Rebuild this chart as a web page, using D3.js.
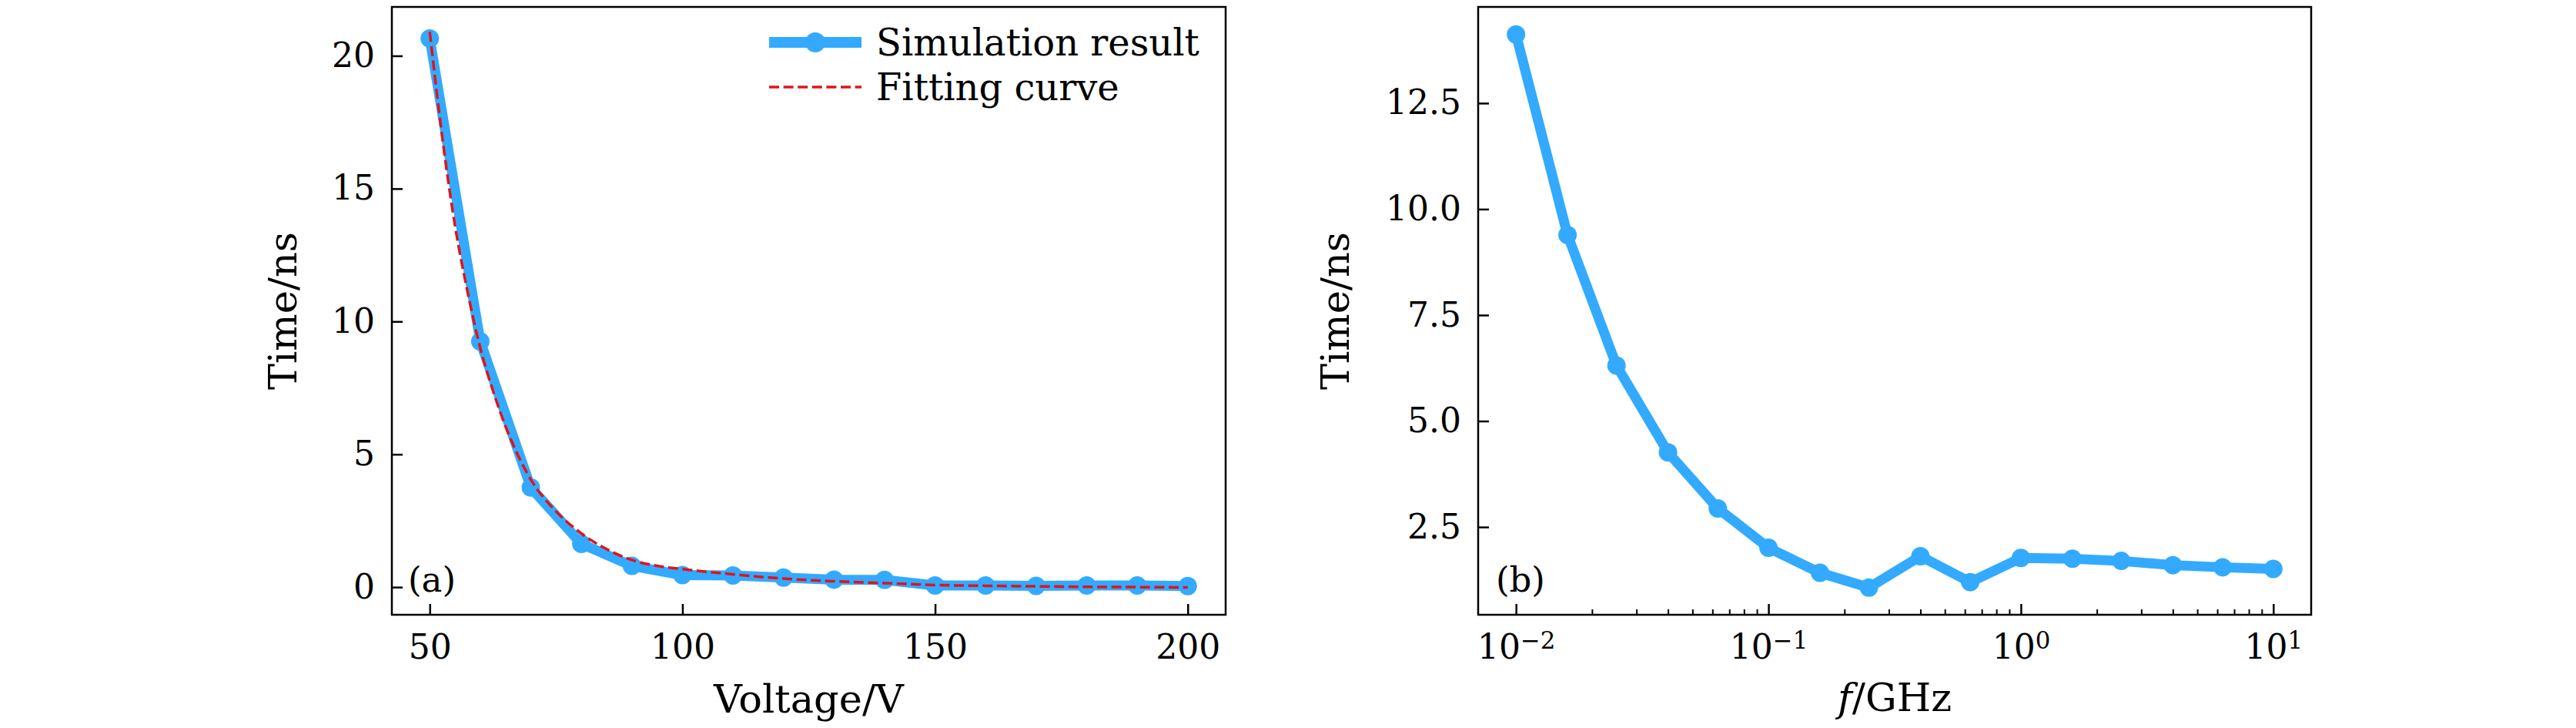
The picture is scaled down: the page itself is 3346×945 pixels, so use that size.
<!DOCTYPE html>
<html>
<head>
<meta charset="utf-8">
<script src="https://cdn.jsdelivr.net/npm/d3@7"></script>
<style>
  html, body { margin: 0; padding: 0; background: #fff; }
  svg { display: block; }
  text { font-family: "DejaVu Serif", "Liberation Serif", serif; fill: #000; }
</style>
</head>
<body>
<div id="chart"></div>
<script>
// Panel (a): delay time vs. voltage
const voltage = [50, 60, 70, 80, 90, 100, 110, 120, 130, 140, 150, 160, 170, 180, 190, 200];
const simTime = [20.65, 9.25, 3.75, 1.63, 0.8, 0.45, 0.44, 0.36, 0.28, 0.27, 0.06, 0.06, 0.05, 0.06, 0.06, 0.04];

// fitting curve
const fitVoltage = [50, 52.5, 55, 57.5, 60, 62.5, 65, 67.5, 70, 75, 80, 85, 90, 95, 100, 110, 120, 130, 140, 150, 160, 170, 180, 190, 200];
const fitTime = [20.9, 16.9, 13.6, 11.1, 9.0, 7.4, 6.05, 4.95, 4.05, 2.85, 2.02, 1.43, 1.02, 0.8, 0.68, 0.48, 0.32, 0.22, 0.15, 0.08, 0.05, 0.03, 0.01, 0.0, -0.01];

// Panel (b): delay time vs. frequency
const freq = [0.01, 0.016, 0.025, 0.04, 0.063, 0.1, 0.16, 0.25, 0.4, 0.63, 1, 1.6, 2.5, 4, 6.3, 10];
const freqTime = [14.12, 9.39, 6.31, 4.26, 2.94, 2.01, 1.42, 1.07, 1.81, 1.2, 1.77, 1.75, 1.7, 1.6, 1.55, 1.51];

const voltTicks = [50, 100, 150, 200];
const timeTicksA = [0, 5, 10, 15, 20];
const freqTicks = [0.01, 0.1, 1, 10];
const timeTicksB = [2.5, 5.0, 7.5, 10.0, 12.5];
const legendLabels = ["Simulation result", "Fitting curve"];

const W = 3346, H = 945;
const blue = "#33aaff", red = "#e0141c";
const tickFont = 44, labelFont = 51, legendFont = 48, tagFont = 45;
const lineW = 13, markerR = 12;

const svg = d3.select("#chart").append("svg")
    .attr("width", W)
    .attr("height", H);

const plotTop = 9, plotBottom = 798;

// scales
const xA = d3.scaleLinear().domain([42.5, 207.5]).range([509, 1592]);
const yA = d3.scaleLinear().domain([-1.04, 21.84]).range([plotBottom, plotTop]);
const xB = d3.scaleLog().domain([Math.pow(10, -2.15), Math.pow(10, 1.15)]).range([1920, 3002]);
const yB = d3.scaleLinear().domain([0.43, 14.77]).range([plotBottom, plotTop]);

function styleAxis(g) {
    g.select(".domain").remove();
    g.selectAll(".tick line").attr("stroke", "#000").attr("stroke-width", 2.5);
    g.selectAll(".tick text")
        .attr("font-family", "DejaVu Serif, Liberation Serif, serif")
        .attr("font-size", tickFont)
        .attr("fill", "#000");
}

function drawFrame(x) {
    svg.append("rect")
        .attr("x", x.range()[0])
        .attr("y", plotTop)
        .attr("width", x.range()[1] - x.range()[0])
        .attr("height", plotBottom - plotTop)
        .attr("fill", "none")
        .attr("stroke", "#000")
        .attr("stroke-width", 2.5);
}

// ---------- panel (a) ----------
svg.append("g")
    .attr("transform", `translate(0,${plotBottom})`)
    .call(d3.axisBottom(xA).tickValues(voltTicks).tickSize(-14).tickSizeOuter(0).tickPadding(26)
        .tickFormat(d3.format("d")))
    .call(styleAxis);

svg.append("g")
    .attr("transform", `translate(${xA.range()[0]},0)`)
    .call(d3.axisLeft(yA).tickValues(timeTicksA).tickSize(-14).tickSizeOuter(0).tickPadding(22)
        .tickFormat(d3.format("d")))
    .call(styleAxis);

const lineA = d3.line().x((d, i) => xA(voltage[i])).y(d => yA(d));
const fitLine = d3.line().x((d, i) => xA(fitVoltage[i])).y(d => yA(d)).curve(d3.curveMonotoneX);

svg.append("path")
    .datum(simTime)
    .attr("d", lineA)
    .attr("fill", "none")
    .attr("stroke", blue)
    .attr("stroke-width", lineW)
    .attr("stroke-linejoin", "round");

svg.append("g").selectAll("circle")
    .data(simTime)
    .join("circle")
    .attr("cx", (d, i) => xA(voltage[i]))
    .attr("cy", d => yA(d))
    .attr("r", markerR)
    .attr("fill", blue);

svg.append("path")
    .datum(fitTime)
    .attr("d", fitLine)
    .attr("fill", "none")
    .attr("stroke", red)
    .attr("stroke-width", 3.5)
    .attr("stroke-dasharray", "13,5.6");

drawFrame(xA);

// legend
const legend = svg.append("g").attr("class", "legend");
const legY = [55, 113];
legend.append("line")
    .attr("x1", 999).attr("x2", 1119)
    .attr("y1", legY[0]).attr("y2", legY[0])
    .attr("stroke", blue).attr("stroke-width", 14);
legend.append("circle")
    .attr("cx", 1059).attr("cy", legY[0]).attr("r", 13).attr("fill", blue);
legend.append("line")
    .attr("x1", 999).attr("x2", 1119)
    .attr("y1", legY[1]).attr("y2", legY[1])
    .attr("stroke", red).attr("stroke-width", 3.5)
    .attr("stroke-dasharray", "13,5.6");
legend.selectAll("text")
    .data(legendLabels)
    .join("text")
    .attr("x", 1138)
    .attr("y", (d, i) => legY[i] + 17)
    .attr("font-size", legendFont)
    .text(d => d);

svg.append("text")
    .attr("x", 530).attr("y", 768)
    .attr("font-size", tagFont)
    .text("(a)");

svg.append("text")
    .attr("x", (xA.range()[0] + xA.range()[1]) / 2)
    .attr("y", 925)
    .attr("text-anchor", "middle")
    .attr("font-size", labelFont)
    .text("Voltage/V");

svg.append("text")
    .attr("transform", `translate(385,${(plotTop + plotBottom) / 2}) rotate(-90)`)
    .attr("text-anchor", "middle")
    .attr("font-size", labelFont)
    .text("Time/ns");

// ---------- panel (b) ----------
const minorTicks = [];
[0.01, 0.1, 1].forEach(dec => {
    for (let m = 2; m <= 9; m++) minorTicks.push(dec * m);
});

svg.append("g")
    .attr("transform", `translate(0,${plotBottom})`)
    .call(d3.axisBottom(xB).tickValues(minorTicks).tickSize(-7).tickSizeOuter(0).tickFormat(""))
    .call(styleAxis)
    .selectAll(".tick line").attr("stroke-width", 2);

const xAxisB = svg.append("g")
    .attr("transform", `translate(0,${plotBottom})`)
    .call(d3.axisBottom(xB).tickValues(freqTicks).tickSize(-14).tickSizeOuter(0).tickPadding(26)
        .tickFormat(""))
    .call(styleAxis);

xAxisB.selectAll(".tick text").each(function(d) {
    const t = d3.select(this);
    const e = Math.round(Math.log10(d));
    t.text("10");
    t.append("tspan")
        .attr("dy", "-0.42em")
        .attr("font-size", tickFont * 0.7)
        .text(e < 0 ? "\u2212" + (-e) : String(e));
});

svg.append("g")
    .attr("transform", `translate(${xB.range()[0]},0)`)
    .call(d3.axisLeft(yB).tickValues(timeTicksB).tickSize(-14).tickSizeOuter(0).tickPadding(22)
        .tickFormat(d3.format(".1f")))
    .call(styleAxis);

const lineB = d3.line().x((d, i) => xB(freq[i])).y(d => yB(d));

svg.append("path")
    .datum(freqTime)
    .attr("d", lineB)
    .attr("fill", "none")
    .attr("stroke", blue)
    .attr("stroke-width", lineW)
    .attr("stroke-linejoin", "round");

svg.append("g").selectAll("circle")
    .data(freqTime)
    .join("circle")
    .attr("cx", (d, i) => xB(freq[i]))
    .attr("cy", d => yB(d))
    .attr("r", markerR)
    .attr("fill", blue);

drawFrame(xB);

svg.append("text")
    .attr("x", 1943).attr("y", 768)
    .attr("font-size", tagFont)
    .text("(b)");

const xlabB = svg.append("text")
    .attr("x", (xB.range()[0] + xB.range()[1]) / 2)
    .attr("y", 923)
    .attr("text-anchor", "middle")
    .attr("font-size", labelFont);
xlabB.append("tspan").attr("font-style", "italic").text("f");
xlabB.append("tspan").text("/GHz");

svg.append("text")
    .attr("transform", `translate(1752,${(plotTop + plotBottom) / 2}) rotate(-90)`)
    .attr("text-anchor", "middle")
    .attr("font-size", labelFont)
    .text("Time/ns");
</script>
</body>
</html>
